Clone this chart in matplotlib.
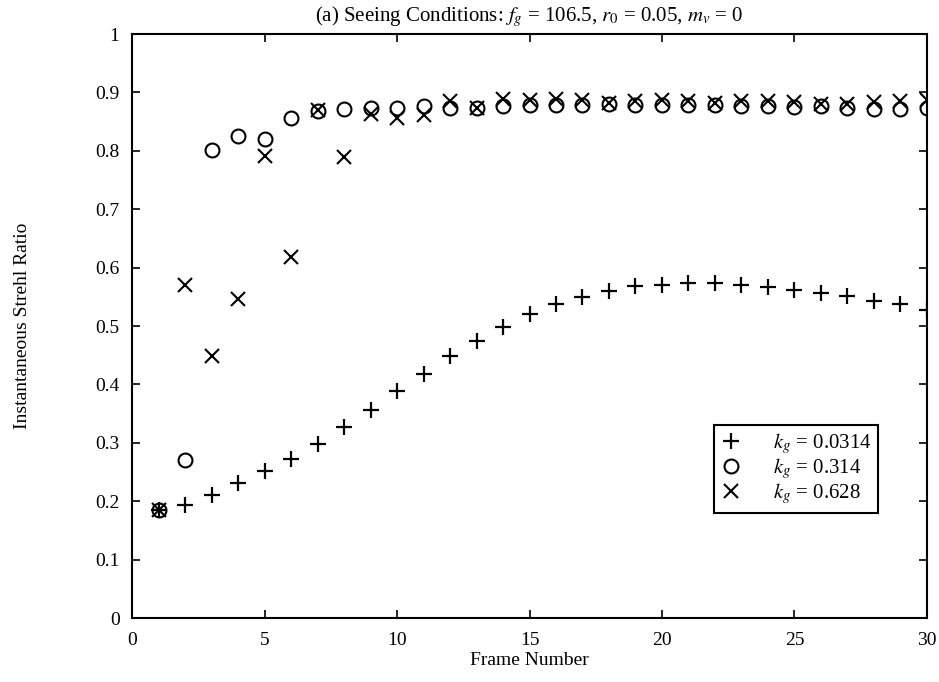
import numpy as np
import matplotlib
matplotlib.use("Agg")
import matplotlib.pyplot as plt
from matplotlib.ticker import FormatStrFormatter

plt.rcParams['font.family'] = ['Liberation Serif', 'DejaVu Serif']
plt.rcParams['mathtext.fontset'] = 'stix'

# Data
frames = np.arange(1, 31)
strehl_k0314 = [0.185, 0.193, 0.211, 0.231, 0.251, 0.272, 0.298, 0.327, 0.357, 0.388,
                0.418, 0.449, 0.474, 0.498, 0.521, 0.538, 0.550, 0.560, 0.568, 0.571,
                0.574, 0.573, 0.570, 0.567, 0.562, 0.557, 0.551, 0.543, 0.537, 0.527]
strehl_k314 = [0.185, 0.271, 0.801, 0.825, 0.821, 0.857, 0.869, 0.871, 0.874, 0.873,
               0.877, 0.874, 0.874, 0.877, 0.879, 0.879, 0.879, 0.880, 0.879, 0.878,
               0.878, 0.879, 0.877, 0.877, 0.875, 0.876, 0.873, 0.872, 0.872, 0.873]
strehl_k628 = [0.185, 0.570, 0.449, 0.546, 0.791, 0.619, 0.870, 0.789, 0.863, 0.856,
               0.862, 0.886, 0.874, 0.888, 0.887, 0.888, 0.887, 0.882, 0.886, 0.887,
               0.886, 0.882, 0.886, 0.885, 0.883, 0.880, 0.880, 0.884, 0.885, 0.887]
labels = [r'$k_g$ = 0.0314', r'$k_g$ = 0.314', r'$k_g$ = 0.628']

fig = plt.figure(figsize=(9.39, 6.82), dpi=100)
ax = fig.add_axes([0.1406, 0.0938, 0.8466, 0.8563])

ax.plot(frames, strehl_k0314, '+', color='k', ms=11, mew=1.6, label=labels[0])
ax.plot(frames, strehl_k314, 'o', color='k', mfc='none', ms=10, mew=1.5, label=labels[1])
ax.plot(frames, strehl_k628, 'x', color='k', ms=10, mew=1.5, label=labels[2])

ax.set_xlim(0, 30)
ax.set_ylim(0, 1)
ax.set_xticks(np.arange(0, 31, 5))
ax.set_yticks(np.arange(0, 1.01, 0.1))
ax.yaxis.set_major_formatter(FormatStrFormatter('%g'))
ax.tick_params(direction='in', top=True, right=True, length=6, width=1.2,
               labelsize=14)
ax.tick_params(axis='x', pad=10)
ax.tick_params(axis='y', pad=9)
for s in ax.spines.values():
    s.set_linewidth(1.5)

ax.set_xlabel('Frame Number', fontsize=14, labelpad=2)
ax.set_ylabel('Instantaneous Strehl Ratio', fontsize=14, labelpad=46)
ax.set_title(r'(a) Seeing Conditions: $f_g$ = 106.5, $r_0$ = 0.05, $m_v$ = 0',
             fontsize=15, pad=9)

leg = ax.legend(loc='upper right', bbox_to_anchor=(0.938, 0.330), fontsize=15,
                frameon=True, fancybox=False, edgecolor='k', framealpha=1,
                handletextpad=1.5, labelspacing=0.0, borderpad=0.3,
                handlelength=1.0, borderaxespad=0)
leg.get_frame().set_linewidth(1.5)

fig.savefig('out.png', dpi=100)
